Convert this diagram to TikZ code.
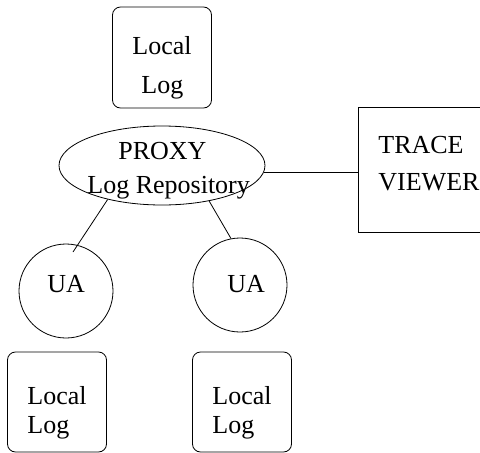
\documentclass[tikz,border=0pt]{standalone}
\usepackage{fontspec}
\setmainfont{Liberation Serif}
\usetikzlibrary{shapes.geometric}
\begin{document}
\begin{tikzpicture}[x=1pt,y=-1pt,
  every node/.style={font=\fontsize{26}{30}\selectfont},
  logbox/.style={draw,rounded corners=8pt,minimum width=99pt,minimum height=101pt,inner sep=0pt},
  uanode/.style={draw,circle,minimum size=94pt,inner sep=0pt},
  lbl/.style={anchor=base west,inner sep=0pt},
  line width=0.8pt]
\useasboundingbox (0,0) rectangle (480,453);
% shapes
\node[logbox] (toplog) at (162,57.5) {};
\node[draw,ellipse,minimum width=206pt,minimum height=79pt,inner sep=0pt] (proxy) at (162,165.5) {};
\node[draw,minimum width=130pt,minimum height=125pt,inner sep=0pt,anchor=north west] (trace) at (357.5,107) {};
\node[uanode] (ua1) at (66,291) {};
\node[uanode] (ua2) at (240,285) {};
\node[logbox,minimum height=100pt] (log1) at (57,402) {};
\node[logbox,minimum height=100pt] (log2) at (242,402) {};
% texts
\node[lbl] (t1a) at (132,54) {Local};
\node[lbl] (t1b) at (141,93) {Log};
\node[lbl] (p1) at (118,159) {PROXY};
\node[lbl] (p2) at (87,193) {Log Repository};
\node[lbl] (tr1) at (378,153) {TRACE};
\node[lbl] (tr2) at (378,190) {VIEWER};
\node[lbl] (u1) at (47,292) {UA};
\node[lbl] (u2) at (227,292) {UA};
\node[lbl] (l1a) at (27,404) {Local};
\node[lbl] (l1b) at (27,433) {Log};
\node[lbl] (l2a) at (212,404) {Local};
\node[lbl] (l2b) at (212,433) {Log};
% connectors
\draw (proxy.-4) -- (proxy.-4 -| trace.west);
\draw (proxy.212) -- ([shift={(7,-39)}]ua1.center);
\draw (proxy.-37.5) -- (ua2.101);
\end{tikzpicture}
\end{document}
